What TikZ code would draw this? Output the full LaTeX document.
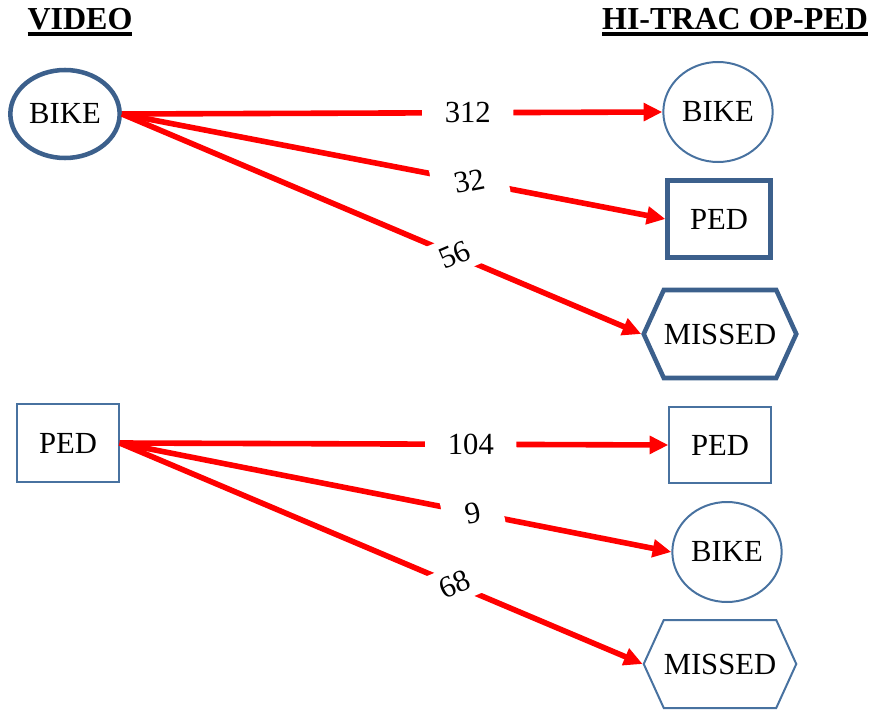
\documentclass[tikz,border=0pt]{standalone}
\usepackage{fontspec}
\setmainfont{Liberation Serif}
\usetikzlibrary{arrows.meta,shapes.geometric,shapes.symbols}
\definecolor{boxblue}{RGB}{60,96,140}
\definecolor{lineblue}{RGB}{72,114,160}
\definecolor{arrowred}{RGB}{255,0,0}
\newsavebox{\ulbox}
\newcommand{\thickul}[1]{\sbox{\ulbox}{#1}\rlap{\rule[-4.5pt]{\wd\ulbox}{2.8pt}}\usebox{\ulbox}}
\tikzset{
  lbl/.style={font=\fontsize{23}{27}\selectfont},
  thickedge/.style={draw=boxblue, line width=3.4pt},
  thinedge/.style={draw=lineblue, line width=1.5pt},
  bikeshape/.style={ellipse, lbl, inner sep=0pt},
  pedshape/.style={rectangle, lbl, inner sep=0pt},
  missshape/.style={signal, signal to=west and east, signal pointer angle=131, lbl, inner sep=0pt},
  flow/.style={draw=arrowred, line width=4.2pt, -{Triangle[length=14pt,width=13pt]}},
  count/.style={lbl, fill=white, inner xsep=17pt, inner ysep=6pt, sloped, pos=0.64}
}
\begin{document}
\begin{tikzpicture}[x=0.75pt,y=0.75pt,yscale=-1,xscale=1]
    \useasboundingbox (0,0) rectangle (869,710);
    % Headings
    \node[lbl, font=\fontsize{24}{28}\selectfont] (headV) at (80,22) {\thickul{\textbf{VIDEO}}};
    \node[lbl, font=\fontsize{24}{28}\selectfont] (headH) at (735,22) {\thickul{\textbf{HI-TRAC OP-PED}}};
    % Video classes
    \node[bikeshape, thickedge, minimum width=82pt, minimum height=66pt] (bikeV) at (65,114) {BIKE};
    \node[pedshape, thinedge, minimum width=76pt, minimum height=58pt] (pedV) at (68,443) {PED};
    % Hi-Trac classes, bike group
    \node[bikeshape, thinedge, minimum width=82pt, minimum height=75pt] (bikeH1) at (718,112) {BIKE};
    \node[pedshape, thickedge, minimum width=77pt, minimum height=58pt] (pedH1) at (719,219) {PED};
    \node[missshape, thickedge, minimum width=108pt, minimum height=66pt] (missH1) at (720,334) {MISSED};
    % Hi-Trac classes, ped group
    \node[pedshape, thinedge, minimum width=76pt, minimum height=57pt] (pedH2) at (720,445) {PED};
    \node[bikeshape, thinedge, minimum width=82pt, minimum height=75pt] (bikeH2) at (727,552) {BIKE};
    \node[missshape, thinedge, minimum width=108pt, minimum height=66pt] (missH2) at (720,664) {MISSED};
    % Flows
    \draw[flow] (bikeV.east) -- node[count] {312} (bikeH1.west);
    \draw[flow] (bikeV.east) -- node[count] {32} (pedH1.west);
    \draw[flow] (bikeV.east) -- node[count] {56} (missH1.west);
    \draw[flow] (pedV.east) -- node[count] {104} (pedH2.west);
    \draw[flow] (pedV.east) -- node[count] {9} (bikeH2.west);
    \draw[flow] (pedV.east) -- node[count] {68} (missH2.west);
\end{tikzpicture}
\end{document}
